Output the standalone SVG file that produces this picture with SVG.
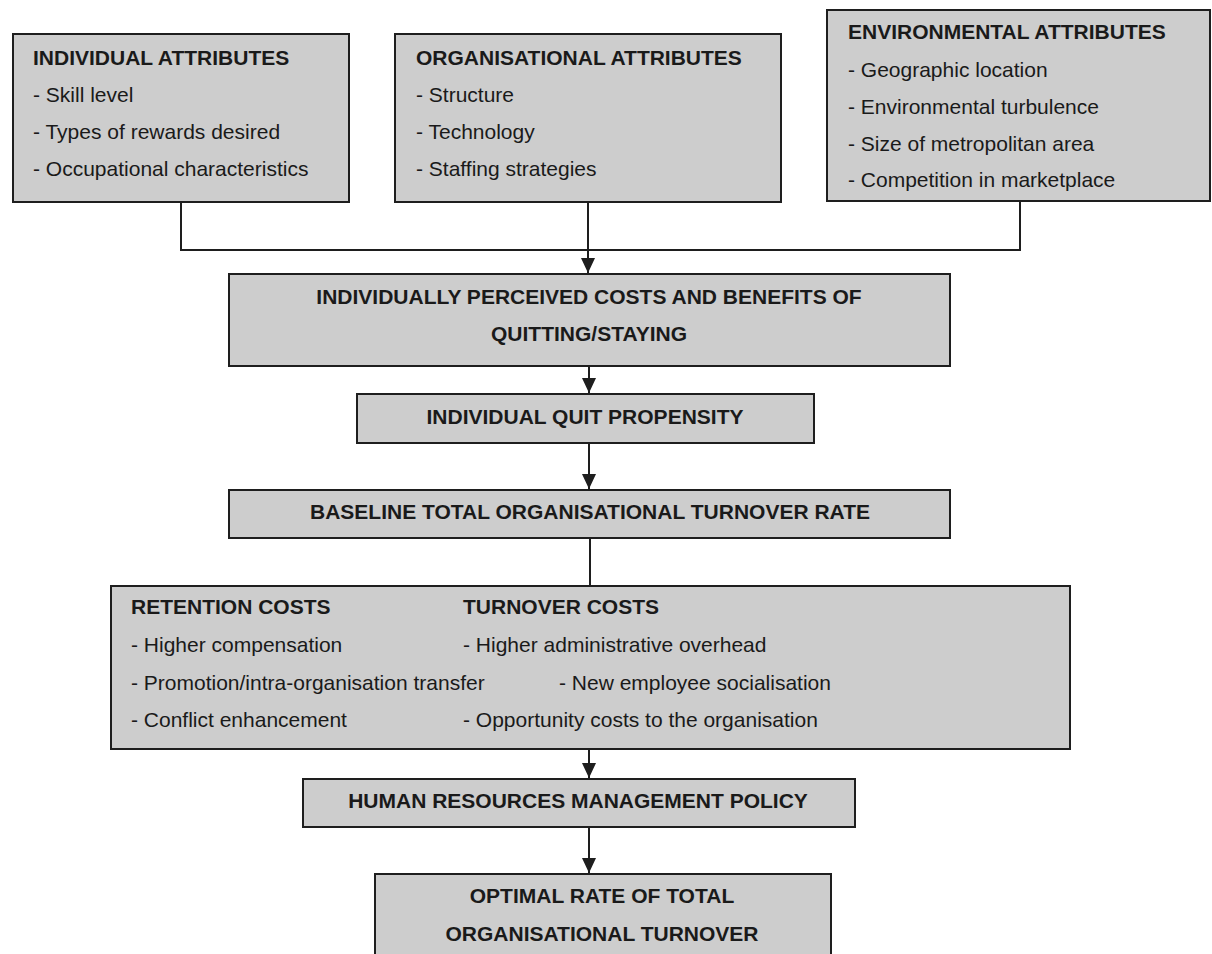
<svg xmlns="http://www.w3.org/2000/svg" width="1212" height="954" viewBox="0 0 1212 954">
<style>
.box{fill:#cdcdcd;stroke:#1e1e1e;stroke-width:2}
text{font-family:"Liberation Sans",Arial,sans-serif;font-size:21px;fill:#1a1a1a}
.b{font-weight:bold}
.c{text-anchor:middle}
.conn{fill:none;stroke:#1e1e1e;stroke-width:2}
</style>
<defs>
<marker id="arr" markerUnits="userSpaceOnUse" markerWidth="16" markerHeight="15" refX="15" refY="7" orient="auto">
<path d="M0,0 L15,7 L0,14 z" fill="#1e1e1e"/>
</marker>
</defs>
<rect width="1212" height="954" fill="#ffffff"/>
<g id="connectors">
<polyline class="conn" points="181,202 181,250 1020,250 1020,201"/>
<line class="conn" x1="588" y1="202" x2="588" y2="273" marker-end="url(#arr)"/>
<line class="conn" x1="589" y1="366" x2="589" y2="393" marker-end="url(#arr)"/>
<line class="conn" x1="589" y1="443" x2="589" y2="489" marker-end="url(#arr)"/>
<line class="conn" x1="590" y1="538" x2="590" y2="586"/>
<line class="conn" x1="589" y1="749" x2="589" y2="778" marker-end="url(#arr)"/>
<line class="conn" x1="589" y1="827" x2="589" y2="873" marker-end="url(#arr)"/>
</g>
<g id="individual-attributes">
<rect class="box" x="13" y="34" width="336" height="168"/>
<text class="b" x="33" y="65">INDIVIDUAL ATTRIBUTES</text>
<text x="33" y="102">- Skill level</text>
<text x="33" y="139">- Types of rewards desired</text>
<text x="33" y="176">- Occupational characteristics</text>
</g>
<g id="organisational-attributes">
<rect class="box" x="395" y="34" width="386" height="168"/>
<text class="b" x="416" y="65">ORGANISATIONAL ATTRIBUTES</text>
<text x="416" y="102">- Structure</text>
<text x="416" y="139">- Technology</text>
<text x="416" y="176">- Staffing strategies</text>
</g>
<g id="environmental-attributes">
<rect class="box" x="827" y="10" width="383" height="191"/>
<text class="b" x="848" y="39">ENVIRONMENTAL ATTRIBUTES</text>
<text x="848" y="77">- Geographic location</text>
<text x="848" y="114">- Environmental turbulence</text>
<text x="848" y="151">- Size of metropolitan area</text>
<text x="848" y="187">- Competition in marketplace</text>
</g>
<g id="perceived-costs">
<rect class="box" x="229" y="274" width="721" height="92"/>
<text class="b c" x="589" y="304">INDIVIDUALLY PERCEIVED COSTS AND BENEFITS OF</text>
<text class="b c" x="589" y="341">QUITTING/STAYING</text>
</g>
<g id="quit-propensity">
<rect class="box" x="357" y="394" width="457" height="49"/>
<text class="b c" x="585" y="424">INDIVIDUAL QUIT PROPENSITY</text>
</g>
<g id="baseline-rate">
<rect class="box" x="229" y="490" width="721" height="48"/>
<text class="b c" x="590" y="519">BASELINE TOTAL ORGANISATIONAL TURNOVER RATE</text>
</g>
<g id="costs">
<rect class="box" x="111" y="586" width="959" height="163"/>
<text class="b" x="131" y="614">RETENTION COSTS</text>
<text class="b" x="463" y="614">TURNOVER COSTS</text>
<text x="131" y="652">- Higher compensation</text>
<text x="463" y="652">- Higher administrative overhead</text>
<text x="131" y="690">- Promotion/intra-organisation transfer</text>
<text x="559" y="690">- New employee socialisation</text>
<text x="131" y="727">- Conflict enhancement</text>
<text x="463" y="727">- Opportunity costs to the organisation</text>
</g>
<g id="hrm-policy">
<rect class="box" x="303" y="779" width="552" height="48"/>
<text class="b c" x="578" y="808">HUMAN RESOURCES MANAGEMENT POLICY</text>
</g>
<g id="optimal-rate">
<rect class="box" x="375" y="874" width="456" height="92"/>
<text class="b c" x="602" y="903">OPTIMAL RATE OF TOTAL</text>
<text class="b c" x="602" y="941">ORGANISATIONAL TURNOVER</text>
</g>
</svg>
